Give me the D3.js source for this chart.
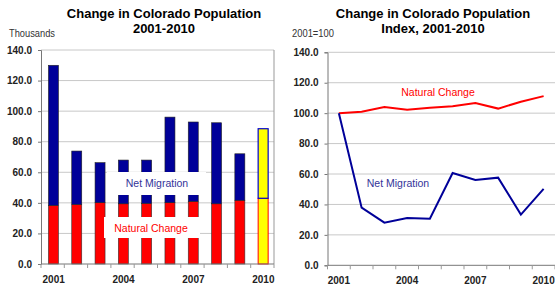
<!DOCTYPE html>
<html><head><meta charset="utf-8">
<script src="https://cdn.jsdelivr.net/npm/d3@7"></script>
<style>body{margin:0;background:#fff}svg{display:block}text{font-family:"Liberation Sans",Arial,sans-serif}</style>
</head><body>
<svg id="c" width="555" height="292"></svg>
<script>
const years = ["2001","2002","2003","2004","2005","2006","2007","2008","2009","2010"];
const naturalChange = [38.4, 39.0, 40.1, 39.4, 39.7, 40.1, 41.0, 39.4, 41.7, 43.0];
const netMigration = [91.6, 34.9, 26.2, 28.6, 28.3, 56.0, 51.9, 53.0, 30.4, 45.5];
const naturalIndex = [100, 101.0, 104.0, 102.3, 103.5, 104.5, 106.7, 103.0, 107.5, 111.2];
const migrationIndex = [100, 37.9, 28.0, 31.1, 30.6, 60.7, 56.1, 57.6, 33.3, 50.2];
const yTicks = [0, 20, 40, 60, 80, 100, 120, 140];
const yearLabels = ["2001","2004","2007","2010"];

const svg = d3.select("#c");
const BLUE = "#000099", RED = "#ff0000";

function frame(g, x, y, left, right, top, bottom, border) {
  g.append("g").selectAll("line").data(yTicks.filter(d => d > 0)).join("line")
    .attr("x1", left).attr("x2", right).attr("y1", d => y(d)).attr("y2", d => y(d))
    .attr("stroke", "#c8c8c8").attr("stroke-width", 1);
  if (border) {
    g.append("line").attr("x1", right).attr("x2", right).attr("y1", top).attr("y2", bottom)
      .attr("stroke", "#999").attr("stroke-width", 1);
  }
}

function axes(g, x, y, left, bottom, labelX) {
  const ya = g.append("g").attr("transform", `translate(${left},0)`)
    .call(d3.axisLeft(y).tickValues(yTicks).tickFormat(d3.format(".1f")).tickSize(3).tickPadding(6));
  ya.select(".domain").attr("stroke", "#777");
  ya.selectAll(".tick line").attr("stroke", "#777");
  ya.selectAll("text").attr("font-size", 10).attr("font-weight", "bold").attr("fill", "#222")
    .attr("font-family", "Liberation Sans, Arial, sans-serif");
  const xa = g.append("g").attr("transform", `translate(0,${bottom})`);
  const r = x.range();
  xa.append("line").attr("x1", r[0]).attr("x2", r[1]).attr("y1", 0).attr("y2", 0).attr("stroke", "#777");
  const bounds = x.domain().map(d => x(d)).concat([r[1]]);
  xa.selectAll(".bt").data(bounds).join("line").attr("class", "bt")
    .attr("x1", d => d).attr("x2", d => d).attr("y1", 0).attr("y2", 4).attr("stroke", "#999");
  xa.selectAll(".yl").data(yearLabels).join("text").attr("class", "yl")
    .attr("x", d => x(d) + x.bandwidth() / 2 + labelX).attr("y", 19)
    .attr("text-anchor", "middle").attr("font-size", 10).attr("font-weight", "bold").attr("fill", "#222")
    .text(d => d);
}

// ---------- Left chart ----------
{
  const left = 41, right = 274, top = 50, bottom = 264;
  const x = d3.scaleBand().domain(years).range([left, right]).padding(0);
  const y = d3.scaleLinear().domain([0, 140]).range([bottom, top]);
  const g = svg.append("g");
  frame(g, x, y, left, right, top, bottom, true);
  const bw = 10;
  const bars = g.append("g");
  years.forEach((yr, i) => {
    const cx = x(yr) + x.bandwidth() / 2 + 0.8;
    const last = i === years.length - 1;
    bars.append("rect").attr("x", cx - bw / 2).attr("width", bw)
      .attr("y", y(naturalChange[i])).attr("height", y(0) - y(naturalChange[i]))
      .attr("fill", last ? "#ffff00" : RED).attr("stroke", last ? RED : "#333")
      .attr("stroke-width", last ? 1 : 0.6);
    const tot = naturalChange[i] + netMigration[i];
    bars.append("rect").attr("x", cx - bw / 2).attr("width", bw)
      .attr("y", y(tot)).attr("height", y(naturalChange[i]) - y(tot))
      .attr("fill", last ? "#ffff00" : BLUE).attr("stroke", last ? "#0000cc" : "#222")
      .attr("stroke-width", last ? 1.2 : 0.6);
  });
  g.append("rect").attr("x", 107).attr("y", 172).attr("width", 99).attr("height", 23).attr("fill", "#fff");
  g.append("text").attr("x", 157).attr("y", 187).attr("text-anchor", "middle")
    .attr("font-size", 10.5).attr("fill", "#333399").text("Net Migration");
  g.append("rect").attr("x", 104).attr("y", 217).attr("width", 96).attr("height", 21).attr("fill", "#fff");
  g.append("text").attr("x", 151).attr("y", 232).attr("text-anchor", "middle")
    .attr("font-size", 10.5).attr("fill", RED).text("Natural Change");
  axes(g, x, y, left, bottom, 1);
  g.append("text").attr("x", 164).attr("y", 18).attr("text-anchor", "middle")
    .attr("font-size", 13).attr("font-weight", "bold").text("Change in Colorado Population");
  g.append("text").attr("x", 164).attr("y", 33).attr("text-anchor", "middle")
    .attr("font-size", 13).attr("font-weight", "bold").text("2001-2010");
  g.append("text").attr("x", 9).attr("y", 37).attr("font-size", 10).attr("fill", "#333")
    .attr("textLength", 46).attr("lengthAdjust", "spacingAndGlyphs").text("Thousands");
}

// ---------- Right chart ----------
{
  const left = 327.5, right = 555, top = 52.3, bottom = 265.3;
  const x = d3.scaleBand().domain(years).range([left, right]).padding(0);
  const y = d3.scaleLinear().domain([0, 140]).range([bottom, top]);
  const g = svg.append("g");
  frame(g, x, y, left, right, top, bottom, false);
  const line = d3.line().x((d, i) => x(years[i]) + x.bandwidth() / 2).y(d => y(d));
  g.append("path").datum(naturalIndex).attr("d", line).attr("fill", "none")
    .attr("stroke", RED).attr("stroke-width", 2);
  g.append("path").datum(migrationIndex).attr("d", line).attr("fill", "none")
    .attr("stroke", BLUE).attr("stroke-width", 2);
  g.append("text").attr("x", 438).attr("y", 96).attr("text-anchor", "middle")
    .attr("font-size", 10.5).attr("fill", RED).text("Natural Change");
  g.append("text").attr("x", 398).attr("y", 187).attr("text-anchor", "middle")
    .attr("font-size", 10.5).attr("fill", "#333399").text("Net Migration");
  axes(g, x, y, left, bottom, 0);
  g.append("text").attr("x", 433).attr("y", 18).attr("text-anchor", "middle")
    .attr("font-size", 13).attr("font-weight", "bold").text("Change in Colorado Population");
  g.append("text").attr("x", 433).attr("y", 33).attr("text-anchor", "middle")
    .attr("font-size", 13).attr("font-weight", "bold").text("Index, 2001-2010");
  g.append("text").attr("x", 292).attr("y", 37).attr("font-size", 10).attr("fill", "#333")
    .attr("textLength", 42).attr("lengthAdjust", "spacingAndGlyphs").text("2001=100");
}
</script>
</body></html>
